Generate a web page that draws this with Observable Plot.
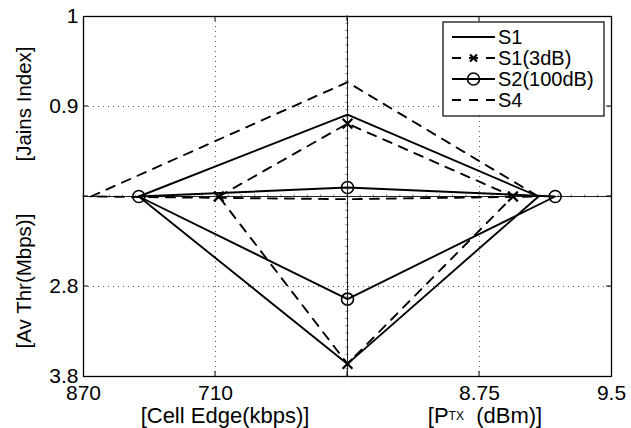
<!DOCTYPE html>
<html>
<head>
<meta charset="utf-8">
<script src="https://cdn.jsdelivr.net/npm/d3@7"></script>
<script src="https://cdn.jsdelivr.net/npm/@observablehq/plot@0.6"></script>
<style>
  html, body { margin: 0; padding: 0; background: white; }
  #chart { width: 631px; height: 428px; }
</style>
</head>
<body>
<div id="chart"></div>
<script>
// ---- Data ----
const series = ["S1", "S1(3dB)", "S2(100dB)", "S4"];
// values on each of the four radar axes
const cellEdge = [803, 706, 803, 861];        // left axis  [Cell Edge(kbps)]
const jains    = [0.891, 0.881, 0.81, 0.927]; // top axis   [Jains Index]
const ptx      = [9.085, 8.94, 9.18, 9.085];  // right axis [P_TX (dBm)]
const avThr    = [3.66, 3.66, 2.94, 1.83];    // bottom axis [Av Thr(Mbps)]

// tick labels of each axis (at half and full radius)
const cellEdgeTicks = [710, 870];
const jainsTicks    = [0.9, 1];
const ptxTicks      = [8.75, 9.5];
const avThrTicks    = [2.8, 3.8];

// line styles
const dashed  = {"S1": false, "S1(3dB)": true, "S2(100dB)": false, "S4": true};
const markers = {"S1": null, "S1(3dB)": "times", "S2(100dB)": "circle", "S4": null};

// ---- radial mappings derived from tick labels ----
const rCell = d3.scaleLinear().domain(cellEdgeTicks).range([0.5, 1]);
const rJ    = d3.scaleLinear().domain(jainsTicks).range([0.5, 1]);
const rP    = d3.scaleLinear().domain(ptxTicks).range([0.5, 1]);
const rA    = d3.scaleLinear().domain(avThrTicks).range([0.5, 1]);

const poly = [];
const verts = [];
series.forEach((s, i) => {
  const pts = [
    {s, x: -rCell(cellEdge[i]), y: 0},
    {s, x: 0, y: rJ(jains[i])},
    {s, x: rP(ptx[i]), y: 0},
    {s, x: 0, y: -rA(avThr[i])}
  ];
  pts.forEach(p => verts.push(p));
  poly.push(...pts, {...pts[0]});
});

const xTickPos = [-1, -0.5, 0.5, 1];
const xTickLab = [cellEdgeTicks[1], cellEdgeTicks[0], ptxTicks[0], ptxTicks[1]].map(String);
const yTickPos = [-1, -0.5, 0.5, 1];
const yTickLab = [avThrTicks[1], avThrTicks[0], jainsTicks[0], jainsTicks[1]].map(String);

const FONT = "'Liberation Sans', Arial, Helvetica, sans-serif";
const DASH = "9,8";

const plot = Plot.plot({
  width: 631, height: 428,
  marginTop: 16, marginRight: 20, marginBottom: 52, marginLeft: 83,
  x: {domain: [-1, 1]},
  y: {domain: [-1, 1]},
  style: {fontFamily: FONT, fontSize: "21px", color: "black", background: "white", overflow: "visible"},
  marks: [
    Plot.ruleX([-0.5, 0.5], {stroke: "#555", strokeDasharray: "1,4", strokeWidth: 1}),
    Plot.ruleY([-0.5, 0.5], {stroke: "#555", strokeDasharray: "1,4", strokeWidth: 1}),
    Plot.ruleX([0], {stroke: "#222", strokeWidth: 1}),
    Plot.ruleY([0], {stroke: "#222", strokeWidth: 1}),
    Plot.line(poly.filter(d => !dashed[d.s]), {x: "x", y: "y", z: "s", stroke: "black", strokeWidth: 1.9, strokeLinejoin: "miter"}),
    Plot.line(poly.filter(d => dashed[d.s]), {x: "x", y: "y", z: "s", stroke: "black", strokeWidth: 1.9, strokeDasharray: DASH, strokeLinejoin: "miter"}),
    Plot.dot(verts.filter(d => markers[d.s] === "times"), {x: "x", y: "y", symbol: "times", r: 4.5, stroke: "black", strokeWidth: 2.2}),
    Plot.dot(verts.filter(d => markers[d.s] === "circle"), {x: "x", y: "y", symbol: "circle", r: 6, stroke: "black", fill: "none", strokeWidth: 1.6}),
    Plot.frame({stroke: "black", strokeWidth: 1.3}),
    Plot.axisX({ticks: xTickPos, tickFormat: d => xTickLab[xTickPos.indexOf(d)], tickSize: 0, tickPadding: 9, label: null, fontSize: 21}),
    Plot.axisY({ticks: yTickPos, tickFormat: d => yTickLab[yTickPos.indexOf(d)], tickSize: 0, tickPadding: 5, label: null, fontSize: 21})
  ]
});

document.getElementById("chart").appendChild(plot);

const svg = d3.select(plot);
const sx = plot.scale("x"), sy = plot.scale("y");
const X = v => sx.apply(v), Y = v => sy.apply(v);
const x0 = X(-1), x1 = X(1), y0 = Y(1), y1 = Y(-1);

// inward frame ticks
const ft = svg.append("g").attr("stroke", "black").attr("stroke-width", 1);
[-0.5, 0, 0.5].forEach(v => {
  ft.append("line").attr("x1", X(v)).attr("x2", X(v)).attr("y1", y1).attr("y2", y1 - 5);
  ft.append("line").attr("x1", X(v)).attr("x2", X(v)).attr("y1", y0).attr("y2", y0 + 5);
  ft.append("line").attr("y1", Y(v)).attr("y2", Y(v)).attr("x1", x0).attr("x2", x0 + 5);
  ft.append("line").attr("y1", Y(v)).attr("y2", Y(v)).attr("x1", x1).attr("x2", x1 - 5);
});
// minor ticks along centre lines
const mt = svg.append("g").attr("stroke", "#333").attr("stroke-width", 0.7);
d3.range(-1, 1.0001, 0.04).forEach(v => {
  mt.append("line").attr("x1", X(0) - 1.5).attr("x2", X(0) + 1.5).attr("y1", Y(v)).attr("y2", Y(v));
});
d3.range(-1, 1.0001, 0.05).forEach(v => {
  mt.append("line").attr("y1", Y(0) - 1.5).attr("y2", Y(0) + 1.5).attr("x1", X(v)).attr("x2", X(v));
});

// axis titles
const t = svg.append("g").attr("font-family", FONT).attr("fill", "black").attr("text-anchor", "middle");
t.append("text").attr("font-size", 20.5).attr("transform", `translate(31,${Y(0.5) - 2}) rotate(-90)`).text("[Jains Index]");
t.append("text").attr("font-size", 20.5).attr("transform", `translate(31,${Y(-0.5) - 5}) rotate(-90)`).text("[Av Thr(Mbps)]");
t.append("text").attr("font-size", 22).attr("x", 225).attr("y", 423).text("[Cell Edge(kbps)]");
const pt = t.append("text").attr("font-size", 22).attr("x", 485).attr("y", 423);
pt.append("tspan").text("[P");
pt.append("tspan").attr("font-size", 12).attr("dy", -3).text("TX");
pt.append("tspan").attr("dy", 3).text("\u00a0\u00a0(dBm)]");

// legend
const lg = svg.append("g").attr("font-family", FONT).attr("font-size", 20).attr("text-anchor", "start");
lg.append("rect").attr("x", 443).attr("y", 22).attr("width", 161).attr("height", 94)
  .attr("fill", "white").attr("stroke", "black").attr("stroke-width", 1.2);
const ly = [37, 58, 79, 100];
series.forEach((s, i) => {
  const y = ly[i];
  lg.append("line").attr("x1", 452).attr("x2", 495).attr("y1", y).attr("y2", y)
    .attr("stroke", "black").attr("stroke-width", 1.9)
    .attr("stroke-dasharray", dashed[s] ? DASH : null);
  if (markers[s] === "circle") {
    lg.append("circle").attr("cx", 473.5).attr("cy", y).attr("r", 6)
      .attr("fill", "none").attr("stroke", "black").attr("stroke-width", 1.6);
  } else if (markers[s] === "times") {
    const r = 3.5;
    lg.append("path").attr("d", `M${473.5 - r},${y - r}L${473.5 + r},${y + r}M${473.5 - r},${y + r}L${473.5 + r},${y - r}`)
      .attr("stroke", "black").attr("stroke-width", 2.2);
  }
  lg.append("text").attr("x", 498).attr("y", y).attr("dy", "0.35em").attr("text-anchor", "start").text(s);
});
</script>
</body>
</html>
